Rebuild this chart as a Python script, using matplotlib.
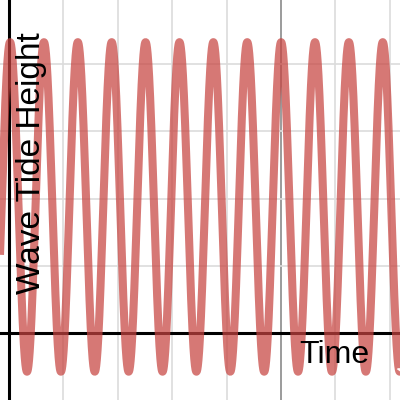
import numpy as np
import matplotlib
matplotlib.use("Agg")
import matplotlib.pyplot as plt

# Axis window (data units)
x_range = [-0.165, 7.19]
y_range = [-0.996, 4.952]

# Grid lines
x_grid_light = [1, 2, 3, 4, 6, 7]
x_grid_dark = [5]
y_grid = [1, 2, 3, 4]

# Wave parameters
wave_mid = 1.875
wave_amp = 2.45
wave_period = 0.623
wave_peak_x = 0.02

x_label = "Time"
y_label = "Wave Tide Height"

fig = plt.figure(figsize=(4, 4), dpi=100)
ax = fig.add_axes([0, 0, 1, 1])
ax.set_xlim(*x_range)
ax.set_ylim(*y_range)
ax.axis("off")

for gx in x_grid_light:
    ax.axvline(gx, color="#dcdcdc", lw=1.2, zorder=1)
for gx in x_grid_dark:
    ax.axvline(gx, color="#8a8a8a", lw=1.2, zorder=1)
for gy in y_grid:
    ax.axhline(gy, color="#dcdcdc", lw=1.2, zorder=1)

ax.axhline(0, color="black", lw=2.2, zorder=2)
ax.axvline(0, color="black", lw=2.2, zorder=2)

xs = np.linspace(x_range[0], x_range[1], 4000)
ys = wave_mid + wave_amp * np.cos(2 * np.pi * (xs - wave_peak_x) / wave_period)
ax.plot(xs, ys, color="#c74440", alpha=0.72, lw=5.8, solid_capstyle="butt", zorder=3)

font = "Liberation Sans"
ax.text(299 / 400, 1 - 363 / 400, x_label, transform=ax.transAxes, fontsize=23,
        family=font, ha="left", va="baseline", color="black", zorder=4)
ax.text(16 / 400, 1 - 163 / 400, y_label, transform=ax.transAxes, fontsize=24,
        family=font, ha="left", va="center", rotation=90, color="black", zorder=4)

fig.savefig("out.png", dpi=100)
